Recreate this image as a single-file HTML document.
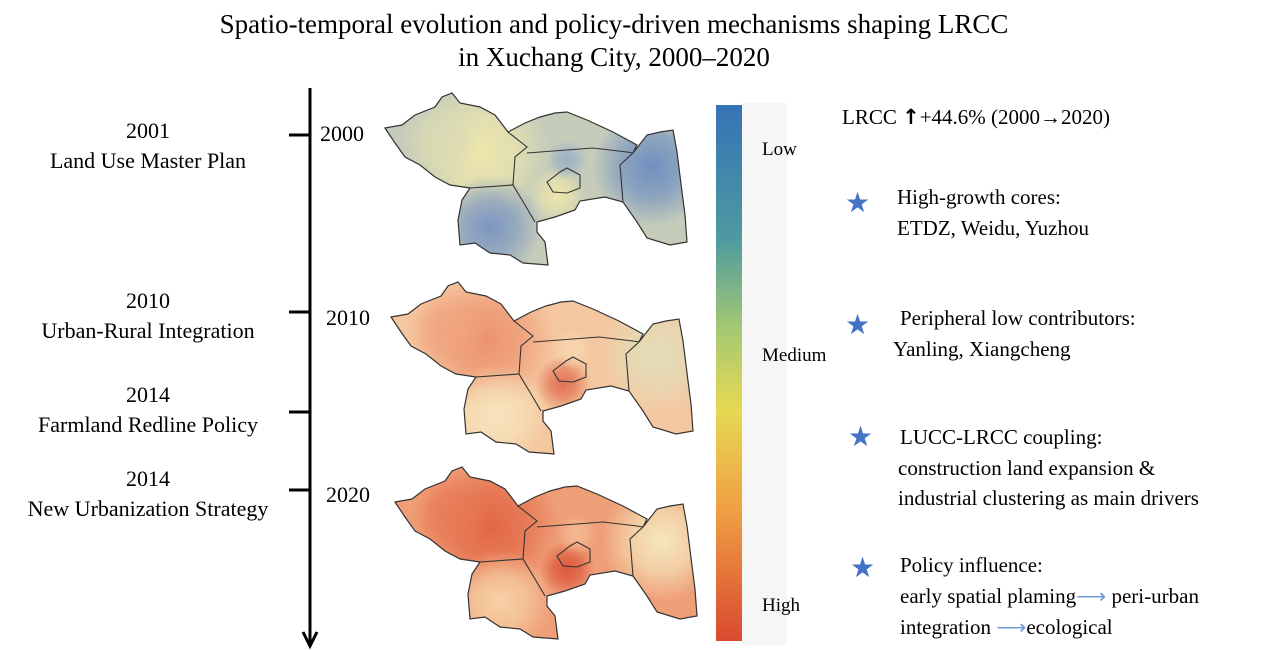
<!DOCTYPE html>
<html><head><meta charset="utf-8"><style>
body{margin:0;background:#fff;}
svg{display:block;font-family:"Liberation Serif",serif;}
</style></head><body>
<svg id="fig" width="1274" height="650" viewBox="0 0 1274 650">
<defs>
<linearGradient id="cbar" x1="0" y1="0" x2="0" y2="1">
<stop offset="0" stop-color="#3673b6"/><stop offset="0.25" stop-color="#4e9aa0"/>
<stop offset="0.42" stop-color="#a6c972"/><stop offset="0.57" stop-color="#e6d852"/>
<stop offset="0.75" stop-color="#efa144"/><stop offset="1" stop-color="#d94a30"/>
</linearGradient>
</defs>
<text x="614" y="33" font-size="27" text-anchor="middle">Spatio-temporal evolution and policy-driven mechanisms shaping LRCC</text>
<text x="614" y="66" font-size="27" text-anchor="middle">in Xuchang City, 2000–2020</text>

<g>
<line x1="310" y1="88" x2="310" y2="645" stroke="#000" stroke-width="3"/>
<path d="M303,632 L310,646 L317,632" fill="none" stroke="#000" stroke-width="3"/>
<line x1="289" y1="135" x2="310" y2="135" stroke="#000" stroke-width="3"/>
<line x1="289" y1="312" x2="310" y2="312" stroke="#000" stroke-width="3"/>
<line x1="289" y1="412" x2="310" y2="412" stroke="#000" stroke-width="3"/>
<line x1="289" y1="490" x2="310" y2="490" stroke="#000" stroke-width="3"/>
<g font-size="22" text-anchor="middle">
<text x="148" y="138">2001</text>
<text x="148" y="168">Land Use Master Plan</text>
<text x="148" y="308">2010</text>
<text x="148" y="338">Urban-Rural Integration</text>
<text x="148" y="402">2014</text>
<text x="148" y="432">Farmland Redline Policy</text>
<text x="148" y="486">2014</text>
<text x="148" y="516">New Urbanization Strategy</text>
<text x="342" y="141">2000</text>
<text x="348" y="325">2010</text>
<text x="348" y="502">2020</text>
</g></g>

<g id="maps"></g>

<rect x="742" y="103" width="45" height="542" fill="#f6f6f6"/>
<rect x="716" y="105" width="26" height="536" fill="url(#cbar)"/>
<g font-size="19">
<text x="762" y="155">Low</text>
<text x="762" y="361">Medium</text>
<text x="762" y="611">High</text>
</g>

<g font-size="21">
<text x="842" y="124">LRCC <tspan font-family="DejaVu Sans" font-weight="bold">↑</tspan>+44.6% (2000→2020)</text>
<text x="845" y="212" font-size="28" fill="#4472c4">★</text>
<text x="897" y="204">High-growth cores:</text>
<text x="897" y="235">ETDZ, Weidu, Yuzhou</text>
<text x="845" y="334" font-size="28" fill="#4472c4">★</text>
<text x="900" y="325">Peripheral low contributors:</text>
<text x="893" y="356">Yanling, Xiangcheng</text>
<text x="848" y="446" font-size="28" fill="#4472c4">★</text>
<text x="900" y="444">LUCC-LRCC coupling:</text>
<text x="898" y="475">construction land expansion &amp;</text>
<text x="898" y="505">industrial clustering as main drivers</text>
<text x="850" y="577" font-size="28" fill="#4472c4">★</text>
<text x="900" y="572">Policy influence:</text>
<text x="900" y="603">early spatial plaming<tspan fill="#6a9bd8">⟶</tspan> peri-urban</text>
<text x="900" y="634">integration <tspan fill="#6a9bd8">⟶</tspan>ecological</text>
</g>
</svg>
<script>
const outline="M5,43 L22,40 L35,30 L55,22 L62,12 L72,8 L80,18 L100,22 L115,30 L128,47 L145,38 L160,32 L175,28 L187,27 L207,35 L233,47 L257,60 L253,68 L267,50 L280,47 L293,45 L297,67 L302,107 L305,130 L307,157 L290,160 L267,153 L257,137 L243,117 L225,112 L200,116 L195,125 L175,132 L157,137 L157,147 L165,157 L168,180 L143,178 L130,170 L110,168 L95,158 L80,160 L78,135 L82,115 L90,103 L70,100 L55,92 L40,80 L25,72 L15,58 Z";
const inner=["M128,47 L147,62 L135,72 L133,100","M90,103 L133,100 L145,120 L155,137","M147,68 L213,63 L247,67 L253,68","M253,68 L240,80 L243,117","M167,97 L180,87 L187,83 L200,90 L200,103 L187,108 L173,107 Z"];
const mapYears=["2000","2010","2020"];
const mapOrigins=[[380,85],[386,274],[390,459]];
const baseColors=["#c5ccba","#f5c7a0","#ef9f78"];
const hotspotX=[100,272,110,177,187,60];
const hotspotY=[67,82,142,110,75,55];
const hotspotColors=[
 ["#f3eaaa","#6689c0","#7591c2","#f1e8a8","#9aaec6","#d9d9b4"],
 ["#eb8d68","#e0e0bc","#f7e8c0","#df6a4c","#f8d8b0","#f0a47e"],
 ["#e0603f","#f6efc4","#f7d6aa","#da4f36","#f4bc96","#e87a56"]];
const hotspotR=[70,60,52,28,20,40];
const ns="http://www.w3.org/2000/svg";
const maps=document.getElementById('maps');
const defs=document.querySelector('defs');
mapYears.forEach((yr,i)=>{
 const g=document.createElementNS(ns,'g');
 g.setAttribute('transform','translate('+mapOrigins[i][0]+','+mapOrigins[i][1]+')');
 
 
 const cp=document.createElementNS(ns,'clipPath');cp.id='clip'+i;
 const cpp=document.createElementNS(ns,'path');cpp.setAttribute('d',outline);cp.appendChild(cpp);defs.appendChild(cp);
 const base=document.createElementNS(ns,'path');base.setAttribute('d',outline);base.setAttribute('fill',baseColors[i]);g.appendChild(base);
 const hg=document.createElementNS(ns,'g');hg.setAttribute('clip-path','url(#clip'+i+')');
 hotspotX.forEach((x,j)=>{
  const rg=document.createElementNS(ns,'radialGradient');rg.id='rg'+i+'_'+j;
  rg.innerHTML='<stop offset="0" stop-color="'+hotspotColors[i][j]+'" stop-opacity="0.9"/><stop offset="0.5" stop-color="'+hotspotColors[i][j]+'" stop-opacity="0.6"/><stop offset="1" stop-color="'+hotspotColors[i][j]+'" stop-opacity="0"/>';
  defs.appendChild(rg);
  const c=document.createElementNS(ns,'circle');
  c.setAttribute('cx',x);c.setAttribute('cy',hotspotY[j]);c.setAttribute('r',hotspotR[j]);
  c.setAttribute('fill','url(#rg'+i+'_'+j+')');
  
  
  hg.appendChild(c);
 });
 g.appendChild(hg);
 const ol=document.createElementNS(ns,'path');ol.setAttribute('d',outline);ol.setAttribute('fill','none');ol.setAttribute('stroke','#333');ol.setAttribute('stroke-width','1.2');g.appendChild(ol);
 inner.forEach(d=>{const p=document.createElementNS(ns,'path');p.setAttribute('d',d);p.setAttribute('fill','none');p.setAttribute('stroke','#333');p.setAttribute('stroke-width','1.1');g.appendChild(p);});
 maps.appendChild(g);
});
</script>
</body></html>
